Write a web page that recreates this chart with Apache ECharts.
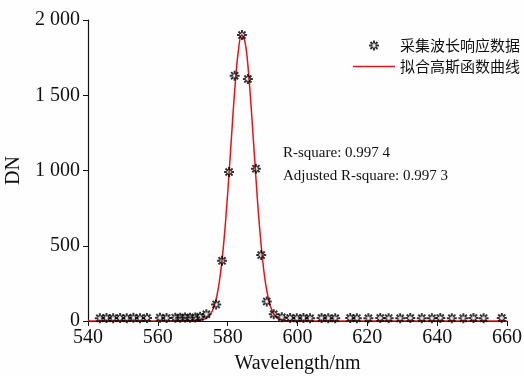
<!DOCTYPE html>
<html>
<head>
<meta charset="utf-8">
<script src="https://cdn.jsdelivr.net/npm/echarts@6/dist/echarts.min.js"></script>
<style>
  html, body { margin: 0; padding: 0; background: #fefefe; }
  #main { width: 524px; height: 376px; }
</style>
</head>
<body>
<div id="main"></div>
<script>
// measured response points (wavelength nm, DN)
var waveX = [543.4, 545.3, 547.2, 549.2, 551.1, 553.0, 554.9, 556.9, 560.6, 562.5,
  565.0, 566.4, 567.8, 569.2, 570.7, 572.1, 573.9, 576.7, 578.4, 580.4,
  582.0, 584.1, 585.8, 588.1, 589.6, 591.2, 593.2, 595.5, 597.9, 599.8,
  601.7, 603.6, 606.9, 608.8, 610.8, 615.1, 617.0, 620.3, 623.7, 626.1,
  629.4, 632.3, 635.6, 638.5, 640.9, 644.2, 647.5, 650.4, 653.3, 658.5];
var dnY = [18, 20, 18, 20, 19, 21, 18, 20, 22, 20,
  22, 21, 23, 22, 24, 28, 45, 110, 400, 990,
  1630, 1900, 1608, 1012, 438, 130, 45, 25, 20, 19,
  20, 18, 20, 19, 18, 20, 19, 18, 20, 19,
  18, 20, 19, 18, 20, 19, 18, 20, 19, 20];

// fitted gaussian curve
var fitX = [540, 566, 568, 570, 572, 573, 574, 575, 576, 577, 578, 579, 580, 581, 582, 583,
  584, 585, 586, 587, 588, 589, 590, 591, 592, 593, 594, 595, 596, 598, 600, 660];
var fitY = [0, 0, 1, 2, 5, 10, 20, 42, 90, 176, 326, 551, 847, 1190, 1526, 1783,
  1900, 1850, 1642, 1329, 982, 661, 407, 228, 117, 54, 23, 9, 3, 1, 0, 0];

var yTicks = ['0', '500', '1 000', '1 500', '2 000'];
var seriesNames = ['采集波长响应数据', '拟合高斯函数曲线'];
var stats = ['R-square: 0.997 4', 'Adjusted R-square: 0.997 3'];

var starPath = 'path://M-10,-2L10,-2L10,2L-10,2Z' +
  'M-2,-10L2,-10L2,10L-2,10Z' +
  'M-8.5,-5.7L5.7,8.5L8.5,5.7L-5.7,-8.5Z' +
  'M-5.7,8.5L8.5,-5.7L5.7,-8.5L-8.5,5.7Z';
var linePath = 'path://M0,0L42,0L42,1.3L0,1.3Z';

var serif = '"Liberation Serif", "Times New Roman", serif';

var chart = echarts.init(document.getElementById('main'));
chart.setOption({
  backgroundColor: '#fefefe',
  animation: false,
  grid: { left: 88, right: 17, top: 20, bottom: 55, outerBoundsMode: 'none', containLabel: false },
  legend: {
    left: 348,
    top: 33,
    orient: 'vertical',
    itemWidth: 42,
    itemHeight: 10,
    itemGap: 6,
    textStyle: { fontFamily: '"Noto Sans CJK SC", sans-serif', fontSize: 15, color: '#111' },
    data: [
      { name: seriesNames[0], icon: starPath },
      { name: seriesNames[1], icon: linePath }
    ]
  },
  xAxis: {
    type: 'value',
    min: 540,
    max: 660,
    interval: 20,
    name: 'Wavelength/nm',
    nameLocation: 'middle',
    nameGap: 33,
    nameTextStyle: { fontFamily: serif, fontSize: 20, color: '#111' },
    axisLine: { lineStyle: { color: '#111', width: 1.2 } },
    axisTick: { show: true, length: 5, lineStyle: { color: '#111' } },
    axisLabel: { fontFamily: serif, fontSize: 20, color: '#111', margin: 7 },
    splitLine: { show: false }
  },
  yAxis: {
    type: 'value',
    min: 0,
    max: 2000,
    interval: 500,
    name: 'DN',
    nameLocation: 'middle',
    nameGap: 58,
    nameRotate: 90,
    nameTextStyle: { fontFamily: serif, fontSize: 20, color: '#111' },
    axisLine: { show: true, lineStyle: { color: '#111', width: 1.2 } },
    axisTick: { show: true, length: 5, lineStyle: { color: '#111' } },
    axisLabel: {
      fontFamily: serif, fontSize: 20, color: '#111', margin: 8,
      formatter: function (v) { return yTicks[v / 500]; }
    },
    splitLine: { show: false }
  },
  graphic: [
    { type: 'text', left: 283, top: 146, style: { text: stats[0], font: '15px ' + serif, fill: '#111' } },
    { type: 'text', left: 283, top: 169, style: { text: stats[1], font: '15px ' + serif, fill: '#111' } }
  ],
  series: [
    {
      name: seriesNames[1],
      type: 'line',
      data: fitX.map(function (x, i) { return [x, fitY[i]]; }),
      smooth: 0.4,
      symbol: 'none',
      lineStyle: { color: '#e3141b', width: 1.5 },
      itemStyle: { color: '#e3141b' },
      z: 2
    },
    {
      name: seriesNames[0],
      type: 'scatter',
      data: waveX.map(function (x, i) { return [x, dnY[i]]; }),
      symbol: starPath,
      symbolSize: 10,
      itemStyle: { color: '#000' },
      z: 3
    }
  ]
});
</script>
</body>
</html>
